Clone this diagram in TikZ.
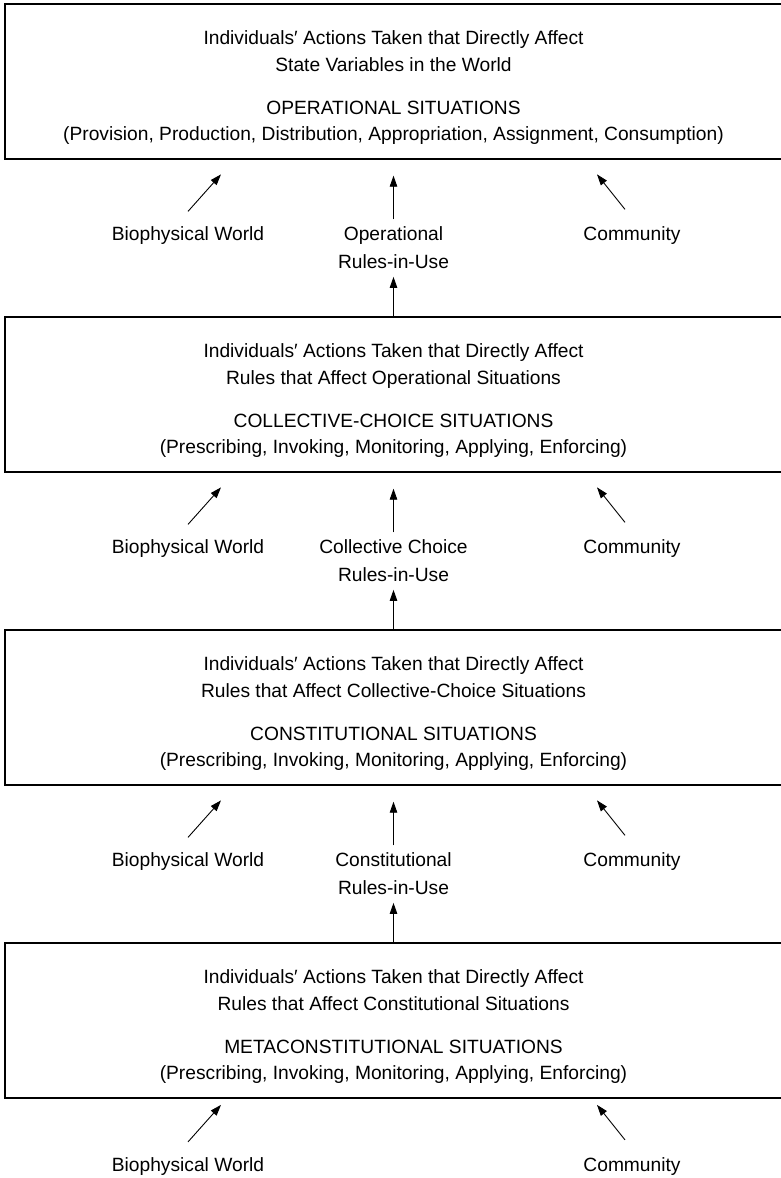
\documentclass[tikz,border=0pt]{standalone}
\usepackage{fontspec}
\setmainfont{Liberation Sans}
\usetikzlibrary{arrows.meta,calc}
\begin{document}
\begin{tikzpicture}[x=1pt,y=-1pt,
  box/.style={draw, line width=1.4pt, minimum width=777pt, minimum height=155pt, inner sep=0pt},
  txt/.style={anchor=base, inner sep=0pt, font=\fontsize{19.2pt}{23pt}\selectfont},
  arr/.style={-{Triangle[length=11pt,width=7.5pt]}, line width=0.9pt},
]
\useasboundingbox[fill=white] (0,0) rectangle (780,1178);

% ---------- boxes ----------
\node[box] (b1) at (393.5,81.5) {};
\node[box] (b2) at (393.5,394.5) {};
\node[box] (b3) at (393.5,707.5) {};
\node[box] (b4) at (393.5,1020.5) {};

% ---------- box texts ----------
\node[txt] (t1a) at (393.5,44.5) {Individuals′ Actions Taken that Directly Affect};
\node[txt] (t1b) at (393.5,71.5) {State Variables in the World};
\node[txt] (t1c) at (393.5,114.5) {OPERATIONAL SITUATIONS};
\node[txt] (t1d) at (393.5,140.5) {(Provision, Production, Distribution, Appropriation, Assignment, Consumption)};

\node[txt] (t2a) at (393.5,357.5) {Individuals′ Actions Taken that Directly Affect};
\node[txt] (t2b) at (393.5,384.5) {Rules that Affect Operational Situations};
\node[txt] (t2c) at (393.5,427.5) {COLLECTIVE-CHOICE SITUATIONS};
\node[txt] (t2d) at (393.5,453.5) {(Prescribing, Invoking, Monitoring, Applying, Enforcing)};

\node[txt] (t3a) at (393.5,670.5) {Individuals′ Actions Taken that Directly Affect};
\node[txt] (t3b) at (393.5,697.5) {Rules that Affect Collective-Choice Situations};
\node[txt] (t3c) at (393.5,740.5) {CONSTITUTIONAL SITUATIONS};
\node[txt] (t3d) at (393.5,766.5) {(Prescribing, Invoking, Monitoring, Applying, Enforcing)};

\node[txt] (t4a) at (393.5,983.5) {Individuals′ Actions Taken that Directly Affect};
\node[txt] (t4b) at (393.5,1010.5) {Rules that Affect Constitutional Situations};
\node[txt] (t4c) at (393.5,1053.5) {METACONSTITUTIONAL SITUATIONS};
\node[txt] (t4d) at (393.5,1079.5) {(Prescribing, Invoking, Monitoring, Applying, Enforcing)};

% ---------- labels ----------
\node[txt] (bw1) at (188,240.5) {Biophysical World};
\node[txt] (cm1) at (632,240.5) {Community};
\node[txt] (o1a) at (393.5,240.5) {Operational};
\node[txt] (o1b) at (393.5,268.5) {Rules-in-Use};

\node[txt] (bw2) at (188,553.5) {Biophysical World};
\node[txt] (cm2) at (632,553.5) {Community};
\node[txt] (o2a) at (393.5,553.5) {Collective Choice};
\node[txt] (o2b) at (393.5,581.5) {Rules-in-Use};

\node[txt] (bw3) at (188,866.5) {Biophysical World};
\node[txt] (cm3) at (632,866.5) {Community};
\node[txt] (o3a) at (393.5,866.5) {Constitutional};
\node[txt] (o3b) at (393.5,894.5) {Rules-in-Use};

\node[txt] (bw4) at (188,1171) {Biophysical World};
\node[txt] (cm4) at (632,1171) {Community};

% ---------- arrows ----------
\foreach \i in {1,2,3,4}{
  \draw[arr] ($(bw\i.north)+(0,-15)$) -- ($(bw\i.north)+(33,-52)$);
  \draw[arr] ($(cm\i.north)+(-7,-17)$) -- ($(cm\i.north)+(-35,-52)$);
}
\foreach \i in {1,2,3}{
  \draw[arr, shorten >=16pt] ($(o\i a.north)+(0,-7)$) -- (b\i.south);
}
\draw[arr] (b2.north) -- ($(o1b.south)+(0,8)$);
\draw[arr] (b3.north) -- ($(o2b.south)+(0,8)$);
\draw[arr] (b4.north) -- ($(o3b.south)+(0,8)$);
\end{tikzpicture}
\end{document}
